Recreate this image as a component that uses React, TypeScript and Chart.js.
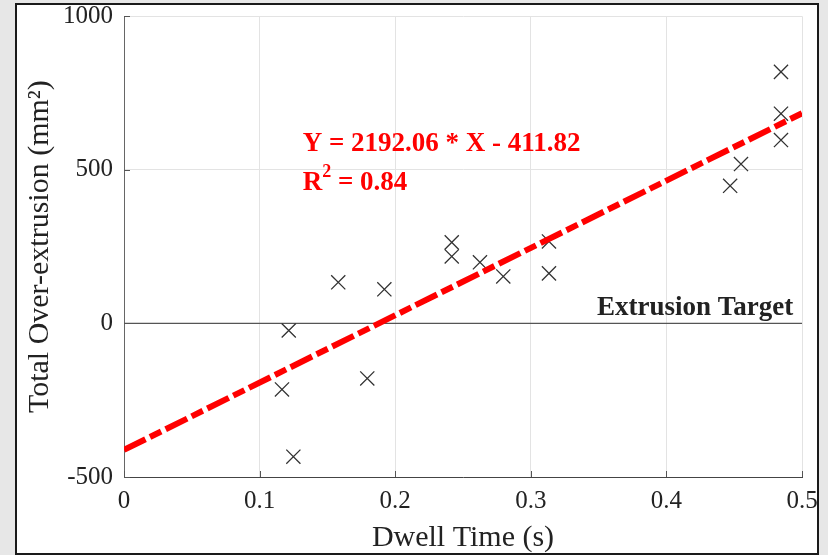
import React, { useEffect, useRef } from "react";
import { Chart, registerables } from "chart.js";

Chart.register(...registerables);

// Measured samples: dwell time (s) vs total over-extrusion (mm²)
const dwellTime = [
  0.1215, 0.1165, 0.1249, 0.158, 0.192, 0.1794, 0.2417, 0.2417, 0.2625,
  0.2797, 0.3134, 0.3134, 0.4845, 0.4845, 0.4845, 0.455, 0.447,
];
const overExtrusion = [
  -23, -215, -434, 134, 111, -179, 264, 218, 199, 153, 267, 163, 819, 683,
  597, 519, 448,
];

// Linear regression reported for the samples
const fitSlope = 2192.06;
const fitIntercept = -411.82;
const fitRSquared = 0.84;
const fitRange = [0, 0.5];

// Zero over-extrusion reference
const targetLevel = 0;
const targetRange = [0, 0.5];

const xTicks = [0, 0.1, 0.2, 0.3, 0.4, 0.5];
const yTicks = [-500, 0, 500, 1000];

const SERIF = '"Liberation Serif", "Times New Roman", serif';

const overlayPlugin = {
  id: "overlay",
  afterDatasetsDraw(chart: any) {
    const { ctx } = chart;
    const x = chart.scales.x;
    const y = chart.scales.y;
    ctx.save();

    // inward tick marks on the left and bottom axes
    ctx.strokeStyle = "#555";
    ctx.lineWidth = 1;
    xTicks.forEach((v) => {
      const px = Math.round(x.getPixelForValue(v)) + 0.5;
      ctx.beginPath();
      ctx.moveTo(px, y.bottom);
      ctx.lineTo(px, y.bottom - 6);
      ctx.stroke();
    });
    yTicks.forEach((v) => {
      const py = Math.round(y.getPixelForValue(v)) + 0.5;
      ctx.beginPath();
      ctx.moveTo(x.left, py);
      ctx.lineTo(x.left + 6, py);
      ctx.stroke();
    });

    // regression equation
    ctx.fillStyle = "#ff0000";
    ctx.textAlign = "left";
    ctx.textBaseline = "alphabetic";
    ctx.font = `bold 27px ${SERIF}`;
    const ex = x.getPixelForValue(0.1318);
    const sign = fitIntercept < 0 ? "-" : "+";
    ctx.fillText(
      `Y = ${fitSlope.toFixed(2)} * X ${sign} ${Math.abs(fitIntercept).toFixed(2)}`,
      ex,
      y.getPixelForValue(563)
    );
    const rBase = y.getPixelForValue(436);
    ctx.fillText("R", ex, rBase);
    let cx = ex + ctx.measureText("R").width;
    ctx.font = `bold 18px ${SERIF}`;
    ctx.fillText("2", cx, rBase - 13);
    cx += ctx.measureText("2").width;
    ctx.font = `bold 27px ${SERIF}`;
    ctx.fillText(` = ${fitRSquared.toFixed(2)}`, cx, rBase);

    // target label
    ctx.fillStyle = "#222";
    ctx.textAlign = "right";
    ctx.font = `bold 27px ${SERIF}`;
    ctx.fillText("Extrusion Target", x.getPixelForValue(0.4936), y.getPixelForValue(26));

    ctx.restore();
  },
};

function App() {
  const canvasRef = useRef<HTMLCanvasElement | null>(null);

  useEffect(() => {
    const canvas = canvasRef.current;
    if (!canvas) return;

    const points = dwellTime.map((t, i) => ({ x: t, y: overExtrusion[i] }));
    const fitLine = fitRange.map((t) => ({ x: t, y: fitSlope * t + fitIntercept }));
    const targetLine = targetRange.map((t) => ({ x: t, y: targetLevel }));

    const chart = new Chart(canvas, {
      type: "scatter",
      data: {
        datasets: [
          {
            label: "Linear fit",
            data: fitLine,
            showLine: true,
            borderColor: "#ff0000",
            borderWidth: 6,
            borderDash: [24, 5, 12.5, 5],
            borderCapStyle: "butt",
            pointRadius: 0,
            fill: false,
          },
          {
            label: "Samples",
            data: points,
            showLine: false,
            pointStyle: "crossRot",
            pointRadius: 10,
            pointBorderColor: "#333",
            pointBorderWidth: 1.3,
            pointBackgroundColor: "transparent",
          },
          {
            label: "Extrusion Target",
            data: targetLine,
            showLine: true,
            borderColor: "#555",
            borderWidth: 1.2,
            pointRadius: 0,
            fill: false,
          },
        ],
      },
      options: {
        animation: false,
        responsive: false,
        layout: { padding: { left: 0, right: 15, top: 9, bottom: 0 } },
        plugins: {
          legend: { display: false },
          tooltip: { enabled: false },
        },
        scales: {
          x: {
            type: "linear",
            min: 0,
            max: 0.5,
            afterBuildTicks: (scale: any) => {
              scale.ticks = xTicks.map((v) => ({ value: v }));
            },
            afterFit: (scale: any) => {
              scale.height = 76;
              scale.paddingLeft = 0;
              scale.paddingRight = 0;
            },
            ticks: {
              autoSkip: false,
              maxRotation: 0,
              padding: 9,
              color: "#222",
              font: { family: SERIF, size: 25 },
              callback: (v: any) => String(v),
            },
            grid: { color: "#e3e3e3", lineWidth: 1, drawTicks: false },
            border: { color: "#444", width: 1 },
            title: {
              display: true,
              text: "Dwell Time (s)",
              color: "#222",
              font: { family: SERIF, size: 30, lineHeight: 1 },
              padding: { top: 0, bottom: 0 },
            },
          },
          y: {
            type: "linear",
            min: -500,
            max: 1000,
            afterBuildTicks: (scale: any) => {
              scale.ticks = yTicks.map((v) => ({ value: v }));
            },
            afterFit: (scale: any) => {
              scale.width = 107;
              scale.paddingTop = 0;
              scale.paddingBottom = 0;
            },
            ticks: {
              padding: 11,
              color: "#222",
              font: { family: SERIF, size: 25 },
              callback: (v: any) => String(v),
            },
            grid: { color: "#e3e3e3", lineWidth: 1, drawTicks: false },
            border: { color: "#666", width: 1 },
            title: {
              display: true,
              text: "Total Over-extrusion (mm²)",
              color: "#222",
              font: { family: SERIF, size: 30, lineHeight: 1 },
              padding: { top: 8, bottom: 0 },
            },
          },
        },
      },
      plugins: [overlayPlugin],
    });

    return () => chart.destroy();
  }, []);

  return (
    <div
      style={{
        position: "fixed",
        left: 0,
        top: 0,
        width: 828,
        height: 555,
        background: "#e7e7e7",
        overflow: "hidden",
      }}
    >
      <div
        style={{
          position: "absolute",
          left: 15,
          top: 3,
          width: 800,
          height: 548,
          border: "2px solid #1a1a1a",
          background: "#ffffff",
          overflow: "hidden",
        }}
      >
        <canvas ref={canvasRef} width={800} height={548} style={{ display: "block" }} />
      </div>
    </div>
  );
}

export default App;
